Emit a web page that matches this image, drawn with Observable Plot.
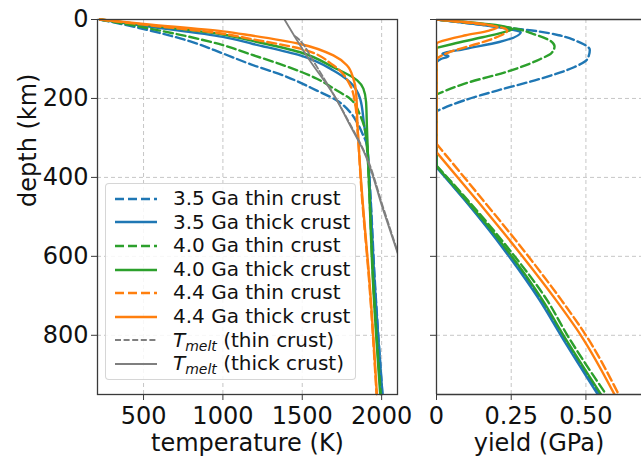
<!DOCTYPE html>
<html><head><meta charset="utf-8">
<script src="https://cdn.jsdelivr.net/npm/d3@7"></script>
<script src="https://cdn.jsdelivr.net/npm/@observablehq/plot@0.6"></script>
<style>
body{margin:0;background:#fff;}
#wrap{position:relative;width:641px;height:458px;overflow:hidden;font-family:"DejaVu Sans",sans-serif;background:#fff;}
#wrap svg.panel{position:absolute;top:0;}
#legend{position:absolute;left:105px;top:183px;width:251px;padding:3px 0;background:rgba(255,255,255,0.85);border:1px solid rgba(204,204,204,0.8);border-radius:4px;box-sizing:border-box;}
.row{display:flex;align-items:center;height:23.6px;font-size:20px;color:#111;white-space:nowrap;line-height:23.6px;}
.row svg{margin-left:9px;margin-right:16px;flex:none;}
.row sub{font-size:14px;font-style:italic;vertical-align:-4px;line-height:0;}
</style></head>
<body><div id="wrap"><div id="legend"></div></div>
<script>
// ---------- tick values ----------
const tempTicks = [500, 1000, 1500, 2000];
const depthTicks = [0, 200, 400, 600, 800];
const yieldTicks = [0, 0.25, 0.5];
const yieldTickLabels = ["0", "0.25", "0.50"];

// ---------- series names ----------
const seriesNames = ["3.5 Ga thin crust", "3.5 Ga thick crust", "4.0 Ga thin crust", "4.0 Ga thick crust", "4.4 Ga thin crust", "4.4 Ga thick crust"];
const meltNames = ["(thin crust)", "(thick crust)"];

// ---------- temperature profiles (depth km, temperature K) ----------
const depth35thin = [0, 24, 55, 86, 113, 142, 180, 205, 235, 260, 290, 314, 350, 433, 661, 949];
const temp35thin  = [225, 500, 790, 1000, 1172, 1382, 1592, 1718, 1802, 1844, 1880, 1905, 1915, 1928, 1957, 2005];
const depth35thick = [0, 16, 44, 62, 91, 129, 159, 201, 268, 306, 433, 661, 949];
const temp35thick  = [225, 500, 1000, 1190, 1487, 1696, 1802, 1865, 1890, 1905, 1926, 1955, 2005];
const depth40thin = [0, 20, 65, 88, 116, 150, 180, 201, 243, 281, 350, 433, 661, 949];
const temp40thin  = [225, 500, 1000, 1172, 1382, 1592, 1718, 1802, 1865, 1896, 1912, 1922, 1947, 1995];
const depth40thick = [0, 13, 38, 53, 83, 121, 154, 175, 209, 268, 433, 661, 949];
const temp40thick  = [225, 500, 1000, 1172, 1487, 1696, 1846, 1885, 1902, 1907, 1922, 1945, 1991];
const depth44thin = [0, 13, 36, 49, 74, 116, 167, 218, 268, 433, 661, 949];
const temp44thin  = [225, 500, 1000, 1172, 1487, 1696, 1802, 1835, 1846, 1873, 1921, 1968];
const depth44thick = [0, 11, 30, 40, 62, 91, 116, 150, 184, 268, 433, 661, 949];
const temp44thick  = [225, 500, 1000, 1172, 1487, 1696, 1781, 1822, 1839, 1848, 1875, 1923, 1970];

// ---------- melting curves ----------
const meltDepthThin = [42, 50, 60, 100, 150, 200, 268, 332, 484, 590];
const meltTempThin  = [1452, 1478, 1500, 1562, 1638, 1712, 1805, 1888, 2016, 2102];
const meltDepthThick = [0, 100, 192, 268, 332, 484, 600];
const meltTempThick  = [1388, 1541, 1700, 1801, 1885, 2011, 2108];

// ---------- yield profiles (depth km, yield GPa) ----------
const ydepth35thin = [0, 23, 28, 40, 55, 77, 100, 121, 150, 180, 205, 232, 373, 458, 585, 711, 800, 949];
const yield35thin  = [0, 0.26, 0.32, 0.41, 0.47, 0.513, 0.505, 0.46, 0.348, 0.203, 0.092, 0, 0, 0.097, 0.232, 0.35, 0.42, 0.545];
const ydepth35thick = [0, 27, 32, 57, 74, 87, 93, 100, 108, 374, 458, 585, 711, 800, 949];
const yield35thick  = [0, 0.26, 0.282, 0.21, 0.098, 0.02, 0.04, 0.015, 0, 0, 0.095, 0.228, 0.345, 0.416, 0.539];
const ydepth40thin = [0, 23.5, 36, 55, 68, 85, 100, 129, 163, 190, 370, 458, 585, 711, 800, 949];
const yield40thin  = [0, 0.266, 0.321, 0.383, 0.395, 0.385, 0.348, 0.25, 0.092, 0, 0, 0.105, 0.246, 0.37, 0.438, 0.567];
const ydepth40thick = [0, 24, 30, 45, 62, 72, 372, 458, 585, 711, 800, 949];
const yield40thick  = [0, 0.254, 0.235, 0.154, 0.054, 0, 0, 0.10, 0.237, 0.355, 0.425, 0.55];
const ydepth44thin = [0, 22, 28, 49, 70, 83, 95, 100, 315, 458, 585, 711, 800, 949];
const yield44thin  = [0, 0.225, 0.237, 0.187, 0.098, 0.042, 0.009, 0, 0, 0.156, 0.292, 0.418, 0.50, 0.609];
const ydepth44thick = [0, 19.5, 28, 40, 57, 60, 336, 458, 585, 711, 800, 949];
const yield44thick  = [0, 0.204, 0.176, 0.098, 0.009, 0, 0, 0.135, 0.272, 0.40, 0.483, 0.595];

// ---------- build tables ----------
const zip = (ds, vs, key) => ds.map((d, i) => ({depth: d, [key]: vs[i]}));
// split a yield profile into shallow branch, zero gap and deep branch (z groups)
function branches(ds, vs) {
  let k = 1;
  while (k < vs.length - 1 && !(vs[k] === 0 && vs[k + 1] === 0)) k++;
  const rows = [];
  ds.forEach((d, i) => {
    if (i <= k) rows.push({depth: d, y: vs[i], b: "a"});
    if (i === k || i === k + 1) rows.push({depth: d, y: vs[i], b: "b"});
    if (i >= k + 1) rows.push({depth: d, y: vs[i], b: "c"});
  });
  return rows;
}
const tempData = [
  zip(depth35thin, temp35thin, "temp"), zip(depth35thick, temp35thick, "temp"),
  zip(depth40thin, temp40thin, "temp"), zip(depth40thick, temp40thick, "temp"),
  zip(depth44thin, temp44thin, "temp"), zip(depth44thick, temp44thick, "temp")
];
const yieldData = [
  branches(ydepth35thin, yield35thin), branches(ydepth35thick, yield35thick),
  branches(ydepth40thin, yield40thin), branches(ydepth40thick, yield40thick),
  branches(ydepth44thin, yield44thin), branches(ydepth44thick, yield44thick)
];
const meltData = [zip(meltDepthThin, meltTempThin, "temp"), zip(meltDepthThick, meltTempThick, "temp")];

// ---------- styles ----------
const seriesColors = ["#1f77b4", "#1f77b4", "#2ca02c", "#2ca02c", "#ff7f0e", "#ff7f0e"];
const seriesDash = ["9,4", null, "9,4", null, "9,4", null];
const meltDash = ["6,2.6", null];
const LW = 2.4, MLW = 1.8;
const gridStyle = {stroke: "#b8b8b8", strokeOpacity: 0.8, strokeDasharray: "4,3", strokeWidth: 1};
const spine = "#3a3a3a";
const FONT = "DejaVu Sans";

// ---------- left panel ----------
const left = Plot.plot({
  width: 420, height: 458,
  marginLeft: 97, marginRight: 23, marginTop: 19, marginBottom: 64,
  x: {domain: [210, 2100]},
  y: {domain: [0, 950], reverse: true},
  style: {fontFamily: FONT, fontSize: "24px", color: "#111", background: "transparent", overflow: "visible"},
  marks: [
    Plot.gridX(tempTicks, gridStyle),
    Plot.gridY(depthTicks.slice(1), gridStyle),
    ...tempData.map((d, i) => Plot.line(d, {x: "temp", y: "depth", stroke: seriesColors[i], strokeWidth: LW, strokeDasharray: seriesDash[i], curve: "monotone-y"})),
    ...meltData.map((d, i) => Plot.line(d, {x: "temp", y: "depth", stroke: "#7f7f7f", strokeWidth: MLW, strokeDasharray: meltDash[i], curve: "monotone-y", clip: true})),
    Plot.frame({stroke: spine, strokeWidth: 1.3}),
    Plot.axisX(tempTicks, {anchor: "bottom", tickSize: 6, tickPadding: 6, fontSize: 24, label: null, stroke: spine, tickFormat: d => String(d)}),
    Plot.axisY(depthTicks, {anchor: "left", tickSize: 6, tickPadding: 3, fontSize: 24, label: null, stroke: spine, tickFormat: d => String(d)}),
    Plot.text(["temperature (K)"], {text: d => d, frameAnchor: "bottom", lineAnchor: "bottom", dy: 56, fontSize: 24}),
    Plot.text(["depth (km)"], {text: d => d, frameAnchor: "left", rotate: -90, dx: -69, fontSize: 24})
  ]
});
left.classList.add("panel");
left.style.left = "0px";

// ---------- right panel ----------
const right = Plot.plot({
  width: 221, height: 458,
  marginLeft: 16, marginRight: 0, marginTop: 19, marginBottom: 64,
  x: {domain: [0, 0.686]},
  y: {domain: [0, 950], reverse: true},
  style: {fontFamily: FONT, fontSize: "24px", color: "#111", background: "transparent", overflow: "visible"},
  marks: [
    Plot.gridX(yieldTicks.slice(1), gridStyle),
    Plot.gridY(depthTicks.slice(1), gridStyle),
    ...yieldData.map((d, i) => Plot.line(d, {x: "y", y: "depth", z: "b", stroke: seriesColors[i], strokeWidth: LW, strokeDasharray: seriesDash[i], curve: "monotone-y", clip: true})),
    Plot.ruleX([0], {stroke: spine, strokeWidth: 1.3}),
    Plot.ruleY([0, 950], {stroke: spine, strokeWidth: 1.3}),
    Plot.axisX(yieldTicks, {anchor: "bottom", tickSize: 6, tickPadding: 6, fontSize: 24, label: null, stroke: spine, tickFormat: d => yieldTickLabels[yieldTicks.indexOf(d)]}),
    Plot.axisY(depthTicks, {anchor: "left", tickSize: 6, tickFormat: () => "", label: null, stroke: spine}),
    Plot.text(["yield (GPa)"], {text: d => d, frameAnchor: "bottom", lineAnchor: "bottom", dy: 56, fontSize: 24})
  ]
});
right.classList.add("panel");
right.style.left = "420px";

const wrap = document.getElementById("wrap");
const legend = document.getElementById("legend");
wrap.insertBefore(right, legend);
wrap.insertBefore(left, right);

// ---------- legend ----------
function sample(color, dash, w) {
  return `<svg width="42" height="10"><line x1="0" y1="5" x2="42" y2="5" stroke="${color}" stroke-width="${w}" ${dash ? `stroke-dasharray="${dash}"` : ""}/></svg>`;
}
let html = "";
seriesNames.forEach((n, i) => {
  html += `<div class="row">${sample(seriesColors[i], seriesDash[i], LW)}<span>${n}</span></div>`;
});
meltNames.forEach((n, i) => {
  html += `<div class="row">${sample("#7f7f7f", meltDash[i], MLW)}<span><i>T</i><sub>melt</sub> ${n}</span></div>`;
});
legend.innerHTML = html;
</script></body></html>
